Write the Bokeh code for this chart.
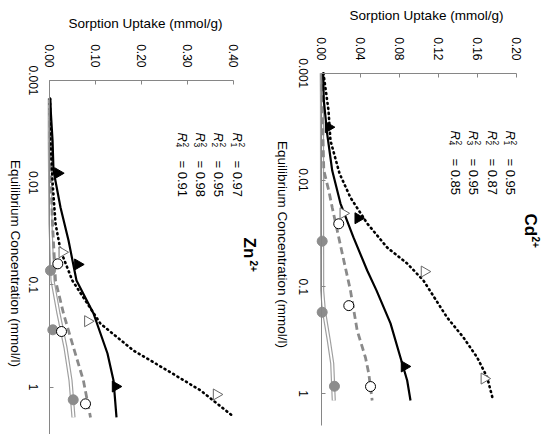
import math
from bokeh.plotting import figure
from bokeh.models import Range1d, FixedTicker
from bokeh.layouts import row
from bokeh.embed import file_html
from bokeh.resources import INLINE
from bokeh.core.properties import value

FONT = "Liberation Sans"

# ---------------- Cd2+ data (concentration mmol/l, uptake mmol/g) ----------------
cd_s1_c = [0.0032, 0.0228, 0.557]
cd_s1_q = [0.0072, 0.0376, 0.0851]
cd_s2_c = [0.0205, 0.072, 0.723]
cd_s2_q = [0.0223, 0.1056, 0.167]
cd_s3_c = [0.0257, 0.150, 0.859]
cd_s3_q = [0.0177, 0.028, 0.0503]
cd_s4_c = [0.0374, 0.173, 0.853]
cd_s4_q = [0.0007, 0.0007, 0.0133]

cd_f1_c = [0.001, 0.0018, 0.00367, 0.00815, 0.0166, 0.0345, 0.0703, 0.108, 0.220, 0.459, 0.753, 1.16]
cd_f1_q = [0.0017, 0.0024, 0.0058, 0.011, 0.0195, 0.0328, 0.0469, 0.0564, 0.0708, 0.081, 0.0879, 0.0913]
cd_f2_c = [0.001, 0.00223, 0.00427, 0.00869, 0.0146, 0.0255, 0.0429, 0.0605, 0.0873, 0.194, 0.298, 0.459, 0.706, 1.16]
cd_f2_q = [0.002, 0.0072, 0.0092, 0.0185, 0.0297, 0.0469, 0.0674, 0.0879, 0.1046, 0.1289, 0.1456, 0.1597, 0.170, 0.1761]
cd_f3_c = [0.001, 0.0018, 0.00815, 0.0126, 0.0181, 0.0345, 0.0568, 0.108, 0.256, 0.459, 0.649, 1.16]
cd_f3_q = [0.0003, 0.0005, 0.0024, 0.0075, 0.011, 0.0177, 0.0229, 0.0297, 0.0366, 0.0451, 0.0485, 0.052]
cd_f4_c = [0.001, 0.0018, 0.108, 0.166, 0.318, 0.522, 1.16]
cd_f4_q = [0.0003, 0.0005, 0.0007, 0.0024, 0.0075, 0.011, 0.0126]
cd_r2 = ["0.95", "0.87", "0.95", "0.85"]

# ---------------- Zn2+ data ----------------
zn_s1_c = [0.00807, 0.0631, 0.987]
zn_s1_q = [0.0174, 0.0609, 0.1428]
zn_s2_c = [0.0479, 0.2265, 1.181]
zn_s2_q = [0.027, 0.0826, 0.3624]
zn_s3_c = [0.0622, 0.2858, 1.458]
zn_s3_q = [0.0174, 0.0254, 0.0776]
zn_s4_c = [0.0723, 0.275, 1.331]
zn_s4_q = [0.0015, 0.0065, 0.0509]

zn_f1_c = [0.0015, 0.00386, 0.0076, 0.0175, 0.0368, 0.0906, 0.1905, 0.469, 0.861, 1.98]
zn_f1_q = [0.0004, 0.006, 0.008, 0.0233, 0.0407, 0.058, 0.095, 0.1254, 0.1385, 0.145]
zn_f2_c = [0.0015, 0.00386, 0.00995, 0.0251, 0.046, 0.0906, 0.239, 0.439, 0.689, 1.08, 1.94]
zn_f2_q = [0.0004, 0.0015, 0.006, 0.0124, 0.0233, 0.049, 0.110, 0.182, 0.256, 0.328, 0.399]
zn_f3_c = [0.0015, 0.00386, 0.00995, 0.0251, 0.0906, 0.1905, 0.410, 0.861, 1.98]
zn_f3_q = [0.0002, 0.0004, 0.0026, 0.0059, 0.0124, 0.0298, 0.0515, 0.073, 0.0885]
zn_f4_c = [0.0015, 0.00386, 0.0251, 0.0906, 0.1905, 0.410, 0.861, 1.98]
zn_f4_q = [0.0, 0.0, 0.0015, 0.0059, 0.0189, 0.0341, 0.045, 0.0515]
zn_r2 = ["0.97", "0.95", "0.98", "0.91"]

conc_ticks = [0.001, 0.01, 0.1, 1]
conc_labels = ["0.001", "0.01", "0.1", "1"]
cd_q_ticks = [0.0, 0.04, 0.08, 0.12, 0.16, 0.20]
cd_q_labels = ["0.00", "0.04", "0.08", "0.12", "0.16", "0.20"]
zn_q_ticks = [0.0, 0.10, 0.20, 0.30, 0.40]
zn_q_labels = ["0.00", "0.10", "0.20", "0.30", "0.40"]

AX = "#868686"
DASH_GRAY = "#8a8a8a"
DBL_GRAY = "#a0a0a0"
PT_GRAY = "#8c8c8c"
ROT = -math.pi / 2   # the figure is printed turned a quarter turn clockwise


def txt(p, xs, ys, texts, size, align="center", angle=ROT, style="normal",
        dx=0, dy=0):
    p.text(xs, ys, text=texts, angle=angle, text_align=align,
           text_baseline="middle", text_font=value(FONT),
           text_font_size=size, text_font_style=style, text_color="black",
           x_offset=dx, y_offset=dy)


def panel(width, height, xr, yr, qticks, qlabels, qmax, cbound,
          qlab_y, qtitle_xy, clab_x, ctitle_xy):
    p = figure(width=width, height=height, x_range=Range1d(*xr),
               y_range=Range1d(*yr), y_axis_type="log",
               x_axis_location="above", output_backend="svg",
               toolbar_location=None, min_border=0)
    p.outline_line_color = None
    p.grid.visible = False

    xa = p.xaxis[0]          # uptake axis, drawn along the 0.001 line
    xa.ticker = FixedTicker(ticks=qticks)
    xa.fixed_location = 0.001
    xa.bounds = (0, qmax)
    xa.major_label_overrides = {t: "" for t in qticks}

    ya = p.yaxis[0]          # concentration axis, drawn along uptake = 0
    ya.ticker = FixedTicker(ticks=conc_ticks)
    ya.fixed_location = 0
    ya.bounds = (0.001, cbound)
    ya.major_label_overrides = {t: "" for t in conc_ticks}

    for a in (xa, ya):
        a.axis_line_color = AX
        a.major_tick_line_color = AX
        a.major_tick_in = 4
        a.major_tick_out = 0
        a.minor_tick_line_color = None
        a.major_label_standoff = 0
        a.major_label_text_font_size = "0px"

    # tick labels and titles, reading top-to-bottom like the printed page
    txt(p, qticks, [qlab_y] * len(qticks), qlabels, "12px", align="right")
    txt(p, [qtitle_xy[0]], [qtitle_xy[1]], ["Sorption Uptake (mmol/g)"],
        "13.5px", angle=0)
    txt(p, [clab_x] * len(conc_ticks), conc_ticks, conc_labels, "12px")
    txt(p, [ctitle_xy[0]], [ctitle_xy[1]],
        ["Equilibrium Concentration (mmol/l)"], "13.5px")
    return p


def draw(p, f1, f2, f3, f4, s1, s2, s3, s4):
    p.line(f4[1], f4[0], line_color=DBL_GRAY, line_width=4.2)
    p.line(f4[1], f4[0], line_color="white", line_width=1.8)
    p.line(f3[1], f3[0], line_color=DASH_GRAY, line_width=2.8, line_dash="7 4")
    p.line(f1[1], f1[0], line_color="black", line_width=2.2)
    p.line(f2[1], f2[0], line_color="black", line_width=2.6, line_dash="1 4",
           line_cap="round")
    p.scatter(s4[1], s4[0], marker="circle", size=10, fill_color=PT_GRAY,
              line_color=PT_GRAY)
    p.scatter(s3[1], s3[0], marker="circle", size=10, fill_color="white",
              line_color="black", line_width=1)
    p.scatter(s2[1], s2[0], marker="triangle", size=11, angle=ROT,
              fill_color="white", line_color="#666666", line_width=1)
    p.scatter(s1[1], s1[0], marker="triangle", size=11, angle=ROT,
              fill_color="black", line_color="black")


def r2_block(p, xs, y0, vals, ion, sup, lx, ly):
    for i, (x, v) in enumerate(zip(xs, vals)):
        txt(p, [x], [y0], ["R"], "13px", align="left", style="italic")
        txt(p, [x], [y0], ["2"], "8.5px", align="left", dx=4, dy=10)
        txt(p, [x], [y0], [str(i + 1)], "8.5px", align="left", dx=-3.5, dy=10)
        txt(p, [x], [y0], ["= " + v], "13px", align="left", dy=28)
    txt(p, [lx], [ly], [ion], "17px", align="left", style="bold")
    txt(p, [lx], [ly], [sup], "10px", align="left", style="bold", dx=5, dy=23)


H = 434
pz = panel(274, H, (-0.1072, 0.4885), (2.91, 1.648e-4), zn_q_ticks,
           zn_q_labels, 0.40, 2.91, 7.46e-4, (0.208, 2.77e-4),
           -0.0354, (-0.0746, 0.0618))
draw(pz, (zn_f1_c, zn_f1_q), (zn_f2_c, zn_f2_q), (zn_f3_c, zn_f3_q),
     (zn_f4_c, zn_f4_q), (zn_s1_c, zn_s1_q), (zn_s2_c, zn_s2_q),
     (zn_s3_c, zn_s3_q), (zn_s4_c, zn_s4_q))
r2_block(pz, [0.4087, 0.3674, 0.3276, 0.2878], 0.00323, zn_r2, "Zn", "2+",
         0.4341, 0.0344)

pc = panel(268, H, (-0.0482, 0.2267), (2.415, 2.085e-4), cd_q_ticks,
           cd_q_labels, 0.20, 2.0, 7.6e-4, (0.1077, 2.88e-4),
           -0.0185, (-0.040, 0.0402))
draw(pc, (cd_f1_c, cd_f1_q), (cd_f2_c, cd_f2_q), (cd_f3_c, cd_f3_q),
     (cd_f4_c, cd_f4_q), (cd_s1_c, cd_s1_q), (cd_s2_c, cd_s2_q),
     (cd_s3_c, cd_s3_q), (cd_s4_c, cd_s4_q))
r2_block(pc, [0.1938, 0.1751, 0.1562, 0.1374], 0.00344, cd_r2, "Cd", "2+",
         0.2144, 0.0206)

layout = row(pz, pc)
open("out.html", "w").write(file_html(layout, INLINE))
